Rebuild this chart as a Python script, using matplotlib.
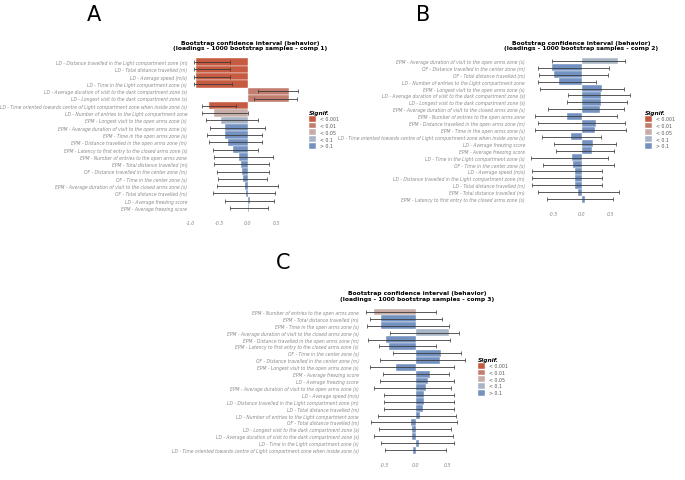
import numpy as np
import matplotlib
matplotlib.use("Agg")
import matplotlib.pyplot as plt
from matplotlib.patches import Patch

W, H = 685, 481

# significance classes and colours
sig_levels = ["< 0.001", "< 0.01", "< 0.05", "< 0.1", "> 0.1"]
sig_colors = ["#C65B41", "#C27D6E", "#C7ADA7", "#A8B5C6", "#7392C2"]

# ---- panel A : comp 1
labels_a = [
    "LD - Distance travelled in the Light compartment zone (m)",
    "LD - Total distance travelled (m)",
    "LD - Average speed (m/s)",
    "LD - Time in the Light compartment zone (s)",
    "LD - Average duration of visit to the dark compartment zone (s)",
    "LD - Longest visit to the dark compartment zone (s)",
    "LD - Time oriented towards centre of Light compartment zone when inside zone (s)",
    "LD - Number of entries to the Light compartment zone",
    "EPM - Longest visit to the open arms zone (s)",
    "EPM - Average duration of visit to the open arms zone (s)",
    "EPM - Time in the open arms zone (s)",
    "EPM - Distance travelled in the open arms zone (m)",
    "EPM - Latency to first entry to the closed arms zone (s)",
    "EPM - Number of entries to the open arms zone",
    "EPM - Total distance travelled (m)",
    "OF - Distance travelled in the center zone (m)",
    "OF - Time in the center zone (s)",
    "EPM - Average duration of visit to the closed arms zone (s)",
    "OF - Total distance travelled (m)",
    "LD - Average freezing score",
    "EPM - Average freezing score",
]
load_a = [-0.90, -0.90, -0.90, -0.90, 0.70, 0.70, -0.67, -0.59, -0.47, -0.39, -0.39,
          -0.34, -0.26, -0.15, -0.12, -0.10, -0.08, -0.06, -0.04, 0.03, 0.01]
lo_a = [-0.93, -0.93, -0.93, -0.93, 0.18, 0.11, -0.79, -0.80, -0.73, -0.66, -0.71,
        -0.67, -0.60, -0.58, -0.59, -0.53, -0.51, -0.53, -0.61, -0.40, -0.31]
hi_a = [-0.31, -0.31, -0.31, -0.28, 0.87, 0.84, -0.21, 0.00, 0.17, 0.29, 0.24,
        0.24, 0.18, 0.43, 0.37, 0.37, 0.33, 0.51, 0.47, 0.44, 0.35]
sig_a = [0, 0, 0, 0, 1, 1, 0, 2, 3, 4, 4, 4, 4, 4, 4, 4, 4, 4, 4, 4, 4]

# ---- panel B : comp 2
labels_b = [
    "EPM - Average duration of visit to the open arms zone (s)",
    "OF - Distance travelled in the center zone (m)",
    "OF - Total distance travelled (m)",
    "LD - Number of entries to the Light compartment zone",
    "EPM - Longest visit to the open arms zone (s)",
    "LD - Average duration of visit to the dark compartment zone (s)",
    "LD - Longest visit to the dark compartment zone (s)",
    "EPM - Average duration of visit to the closed arms zone (s)",
    "EPM - Number of entries to the open arms zone",
    "EPM - Distance travelled in the open arms zone (m)",
    "EPM - Time in the open arms zone (s)",
    "LD - Time oriented towards centre of Light compartment zone when inside zone (s)",
    "LD - Average freezing score",
    "EPM - Average freezing score",
    "LD - Time in the Light compartment zone (s)",
    "OF - Time in the center zone (s)",
    "LD - Average speed (m/s)",
    "LD - Distance travelled in the Light compartment zone (m)",
    "LD - Total distance travelled (m)",
    "EPM - Total distance travelled (m)",
    "EPM - Latency to first entry to the closed arms zone (s)",
]
load_b = [0.63, -0.53, -0.50, -0.41, 0.35, 0.34, 0.33, 0.31, -0.27, 0.24, 0.22,
          -0.20, 0.19, 0.18, -0.17, -0.16, -0.13, -0.13, -0.13, -0.07, 0.06]
lo_b = [-0.53, -0.78, -0.75, -0.78, -0.74, -0.24, -0.27, -0.59, -0.83, -0.78, -0.83,
        -0.71, -0.49, -0.45, -0.90, -0.68, -0.88, -0.88, -0.88, -0.77, -0.62]
hi_b = [0.76, 0.47, 0.45, 0.24, 0.74, 0.85, 0.79, 0.74, 0.62, 0.76, 0.77,
        0.33, 0.59, 0.57, 0.45, 0.57, 0.35, 0.35, 0.35, 0.65, 0.54]
sig_b = [3] + [4] * 20

# ---- panel C : comp 3
labels_c = [
    "EPM - Number of entries to the open arms zone",
    "EPM - Total distance travelled (m)",
    "EPM - Time in the open arms zone (s)",
    "EPM - Average duration of visit to the closed arms zone (s)",
    "EPM - Distance travelled in the open arms zone (m)",
    "EPM - Latency to first entry to the closed arms zone (s)",
    "OF - Time in the center zone (s)",
    "OF - Distance travelled in the center zone (m)",
    "EPM - Longest visit to the open arms zone (s)",
    "EPM - Average freezing score",
    "LD - Average freezing score",
    "EPM - Average duration of visit to the open arms zone (s)",
    "LD - Average speed (m/s)",
    "LD - Distance travelled in the Light compartment zone (m)",
    "LD - Total distance travelled (m)",
    "LD - Number of entries to the Light compartment zone",
    "OF - Total distance travelled (m)",
    "LD - Longest visit to the dark compartment zone (s)",
    "LD - Average duration of visit to the dark compartment zone (s)",
    "LD - Time in the Light compartment zone (s)",
    "LD - Time oriented towards centre of Light compartment zone when inside zone (s)",
]
load_c = [-0.67, -0.55, -0.55, 0.53, -0.48, -0.43, 0.39, 0.38, -0.31, 0.22, 0.19,
          0.16, 0.13, 0.12, 0.11, 0.07, -0.08, -0.06, -0.06, 0.04, -0.04]
lo_c = [-0.79, -0.73, -0.78, -0.41, -0.76, -0.59, -0.36, -0.57, -0.73, -0.52, -0.57,
        -0.67, -0.50, -0.50, -0.50, -0.61, -0.71, -0.59, -0.66, -0.55, -0.49]
hi_c = [0.32, 0.41, 0.53, 0.69, 0.54, 0.31, 0.71, 0.78, 0.61, 0.52, 0.60,
        0.55, 0.60, 0.60, 0.60, 0.63, 0.65, 0.55, 0.59, 0.60, 0.47]
sig_c = [2, 4, 4, 3] + [4] * 17

ticks = [-1.0, -0.5, 0.0, 0.5]


def box(x0, x1, y0, y1):
    # pixel box (top-left origin) -> figure fraction rect
    return [x0 / W, 1 - y1 / H, (x1 - x0) / W, (y1 - y0) / H]


def panel(fig, rect, labels, load, lo, hi, sig, comp, xlim, title_xy, leg_xy):
    ax = fig.add_axes(rect)
    y = np.arange(len(labels))
    cols = [sig_colors[s] for s in sig]
    ax.barh(y, load, height=1.0, color=cols, edgecolor="white", linewidth=0.3, zorder=2)
    lo = np.array(lo)
    hi = np.array(hi)
    ax.errorbar((lo + hi) / 2, y, xerr=(hi - lo) / 2, fmt="none", ecolor="#3a3a3a",
                elinewidth=0.7, capsize=1.6, capthick=0.6, alpha=0.85, zorder=3)
    ax.set_yticks(y)
    ax.set_yticklabels(labels, fontsize=3.25, style="italic", color="#8a8a8a")
    ax.set_ylim(len(labels) - 0.5, -0.5)
    ax.set_xlim(*xlim)
    shown = [t for t in ticks if xlim[0] <= t <= xlim[1]]
    ax.set_xticks(shown)
    ax.set_xticklabels([f"{t:.1f}" for t in shown],
                       fontsize=3.4, style="italic", color="#8a8a8a")
    ax.tick_params(axis="y", length=0, pad=1.2)
    ax.tick_params(axis="x", length=0, pad=6)
    for s in ax.spines.values():
        s.set_visible(False)
    fig.text(title_xy[0] / W, 1 - title_xy[1] / H,
             "Bootstrap confidence interval (behavior)\n"
             f"(loadings - 1000 bootstrap samples - comp {comp})",
             ha="center", va="center", fontsize=4.3, fontweight="bold", linespacing=1.05)
    handles = [Patch(facecolor=c, edgecolor="white", linewidth=0.3) for c in sig_colors]
    leg = fig.legend(handles, sig_levels, loc="upper left",
                     bbox_to_anchor=(leg_xy[0] / W, 1 - leg_xy[1] / H),
                     frameon=False, fontsize=3.4, title="Signif.",
                     title_fontproperties={"size": 4.2, "weight": "bold", "style": "italic"},
                     handlelength=1.5, handleheight=1.5, handletextpad=0.8,
                     labelspacing=0.2, borderpad=0, borderaxespad=0, alignment="left")
    for t in leg.get_texts():
        t.set_color("#555555")
    return ax


fig = plt.figure(figsize=(6.85, 4.81), dpi=100)

# A: zero at x=248, 58 px per unit
xa = (-1.02, 0.95)
panel(fig, box(248 + 58 * xa[0], 248 + 58 * xa[1], 59.35, 212.65),
      labels_a, load_a, lo_a, hi_a, sig_a, 1, xa, (250, 46), (309, 111))

# B: zero at x=582, 57 px per unit
xb = (-0.97, 0.95)
panel(fig, box(582 + 57 * xb[0], 582 + 57 * xb[1], 58.5, 203.5),
      labels_b, load_b, lo_b, hi_b, sig_b, 2, xb, (581, 46), (645, 111))

# C: zero at x=416, 63 px per unit
xc = (-0.88, 0.85)
panel(fig, box(416 + 63 * xc[0], 416 + 63 * xc[1], 309.5, 454.5),
      labels_c, load_c, lo_c, hi_c, sig_c, 3, xc, (417, 296.5), (478, 358))

fig.text(94 / W, 1 - 15 / H, "A", ha="center", va="center", fontsize=15)
fig.text(423 / W, 1 - 15 / H, "B", ha="center", va="center", fontsize=15)
fig.text(283 / W, 1 - 263 / H, "C", ha="center", va="center", fontsize=15)

fig.savefig("out.png", dpi=100)
